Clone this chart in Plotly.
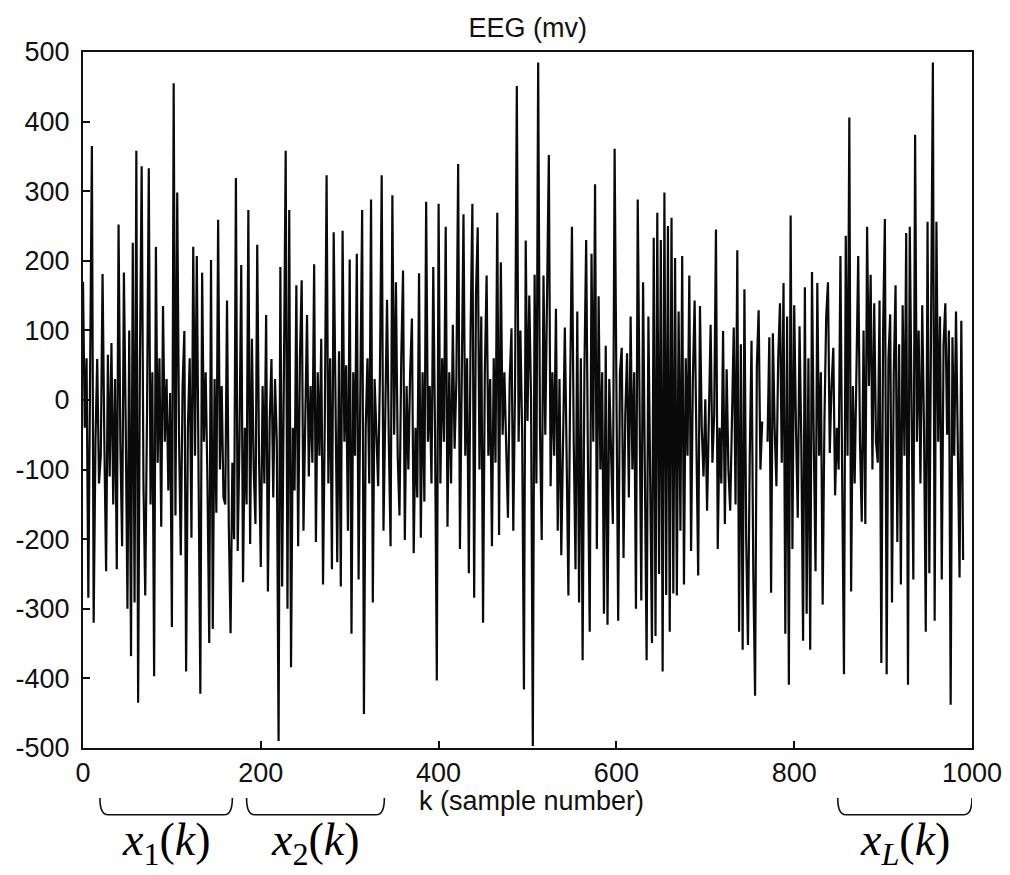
import plotly.graph_objects as go

# EEG samples, every 2nd sample (k = 0, 2, 4, ...)
step = 2
eeg = [
    170, -40, 60, -284, 40, 365, -320, -60, 59, -120,
    -80, 181, -60, -246, 65, -110, 82, -150, 30, -243,
    252, -60, -210, 183, -30, -300, 100, -368, 226, -291,
    358, -435, 50, 336, -120, -281, -20, 333, -150, 40,
    -397, 220, -90, 60, -182, 135, -60, 30, -130, 10,
    -326, 455, -166, 298, -50, -223, 20, 99, -390, -40,
    60, -198, 220, -80, 207, -100, -422, 183, -60, 40,
    -120, -349, 201, -329, 30, -162, 259, -100, 20, -140,
    -150, 143, -180, -335, -90, -200, 319, -217, -60, 194,
    -262, -40, -150, 273, -207, 88, -100, -178, 223, -80,
    -240, 20, -120, 122, -275, -30, 59, -140, 30, -60,
    -490, 191, -268, 40, 358, -300, 273, -384, -40, -130,
    165, -210, 60, 172, -188, -30, 122, -110, 20, -90,
    195, -204, 40, -80, 88, -265, -30, 323, -120, 60,
    -243, 241, -40, -233, 70, -268, 243, -60, 50, -188,
    202, -336, 40, -80, 210, -258, 20, 273, -451, -40,
    60, -120, 288, -291, 30, -60, -124, 37, 323, -188,
    -40, 144, -60, -210, 294, -50, 169, -80, -166, 60,
    186, -201, 20, -100, 40, 117, -220, -40, -140, 182,
    -198, 40, -146, 285, -60, 20, -120, 191, -50, -403,
    282, -120, 60, -60, 249, -182, 40, -120, 108, -70,
    30, 339, -214, 20, 267, -80, 60, -249, 100, 282,
    -284, 150, 248, -100, 120, -320, 40, 179, -80, 30,
    -210, 60, -90, 269, -194, 198, -50, 40, -80, -169,
    30, 103, -188, 20, 451, -60, 100, -50, -416, 229,
    -30, 150, 0, -497, 180, -120, 485, -40, -201, 179,
    -50, 120, 352, -124, 40, -80, 131, -188, 30, -223,
    -30, 104, -80, -281, 20, 249, -60, -243, 127, -291,
    60, -374, 40, 230, -90, -333, 210, -60, 310, -214,
    149, -100, 40, -307, 78, -323, 30, -80, -178, 361,
    -60, -317, 40, 75, -227, -20, 67, -140, 120, -100,
    40, -300, 288, -40, -288, 169, -60, -374, 120, -80,
    -349, 233, -339, 269, -250, 230, -390, 298, -280, 250,
    -333, 262, -278, 204, -281, 127, -188, 207, -265, 60,
    -80, 179, -217, 30, 143, -60, -252, 135, -40, -110,
    1, -159, -30, 108, -90, -20, 245, -214, -40, -120,
    99, -178, 44, -100, -159, -40, 104, -150, 215, -333,
    80, -359, 159, -200, -352, -80, 85, -250, -425, 50,
    129, -100, -31, None, None, -60, 90, -277, 96, -40,
    -124, 60, 139, -90, 168, -336, 120, -409, 265, -214,
    136, -40, -169, 106, -60, -346, 162, -307, 60, -359,
    184, -60, -246, 168, -80, 40, -294, -30, 120, 169,
    -76, 20, 75, -137, -40, -100, 207, -120, -394, 236,
    -80, 406, -275, 20, -120, 40, 207, -60, -175, 100,
    -178, 249, 20, 180, -100, 139, -60, -90, 143, -378,
    100, 260, -394, 60, 123, -291, 40, 165, -204, 80,
    -265, 136, -80, 240, -409, 249, -60, -258, 381, -60,
    100, -120, 136, -40, -333, 256, -249, 60, 485, -317,
    256, -60, 120, -258, 80, 139, -50, 100, -438, 90,
    -80, 127, -100, -255, 114, -230,
]
k = [i * step for i in range(len(eeg))]

x_ticks = [0, 200, 400, 600, 800, 1000]
y_ticks = [500, 400, 300, 200, 100, 0, -100, -200, -300, -400, -500]
y_tick_labels = ["500", "400", "300", "200", "100", "0",
                 "-100", "-200", "-300", "-400", "-500"]

# Segments marked beneath the axis: (first k, last k, label)
segments = [
    (19, 168, "<i>x</i><sub>1</sub>(<i>k</i>)"),
    (184, 339, "<i>x</i><sub>2</sub>(<i>k</i>)"),
    (849, 1000, "<i>x</i><sub><i>L</i></sub>(<i>k</i>)"),
]

TXT = dict(family="Liberation Sans, Arial, sans-serif", size=27, color="#111")

fig = go.Figure()
fig.add_trace(go.Scatter(
    x=k, y=eeg, mode="lines",
    line=dict(color="#0a0a0a", width=2.2),
    connectgaps=False, showlegend=False, hoverinfo="skip",
))

shapes = []
annotations = []
top, bot, r = -0.072, -0.096, 9
for a, b, lab in segments:
    path = (f"M {a},{top} Q {a},{bot} {a + r},{bot} "
            f"L {b - r},{bot} Q {b},{bot} {b},{top}")
    shapes.append(dict(type="path", path=path, xref="x", yref="paper",
                       line=dict(color="#111", width=1.6)))
    annotations.append(dict(
        x=(a + b) / 2, y=-0.136, xref="x", yref="paper",
        text=lab, showarrow=False, yanchor="middle", xanchor="center",
        font=dict(family="Liberation Serif, Times New Roman, serif",
                  size=46, color="#000"),
    ))

annotations.append(dict(
    x=0.505, y=-0.076, xref="paper", yref="paper", text="k (sample number)",
    showarrow=False, yanchor="middle", xanchor="center", font=TXT,
))

fig.update_layout(
    width=1010, height=875,
    margin=dict(l=83, r=38, t=52, b=127),
    paper_bgcolor="white", plot_bgcolor="white",
    title=dict(text="EEG (mv)", x=0.5225, xanchor="center",
               y=1 - 28 / 875, yanchor="middle", font=TXT),
    shapes=shapes, annotations=annotations,
    xaxis=dict(range=[0, 1000], tickvals=x_ticks, ticks="inside", ticklen=7,
               tickcolor="#111", tickwidth=1.5, automargin=False,
               showline=True, linecolor="#111", linewidth=2, mirror=True,
               showgrid=False, zeroline=False, tickfont=TXT),
    yaxis=dict(range=[-500, 500], tickvals=y_ticks, ticktext=y_tick_labels,
               ticks="inside", ticklen=7, automargin=False,
               tickcolor="#111", tickwidth=1.5,
               showline=True, linecolor="#111", linewidth=2, mirror=True,
               showgrid=False, zeroline=False, tickfont=TXT,
               ticklabelstandoff=6),
)

fig.write_html("out.html")
